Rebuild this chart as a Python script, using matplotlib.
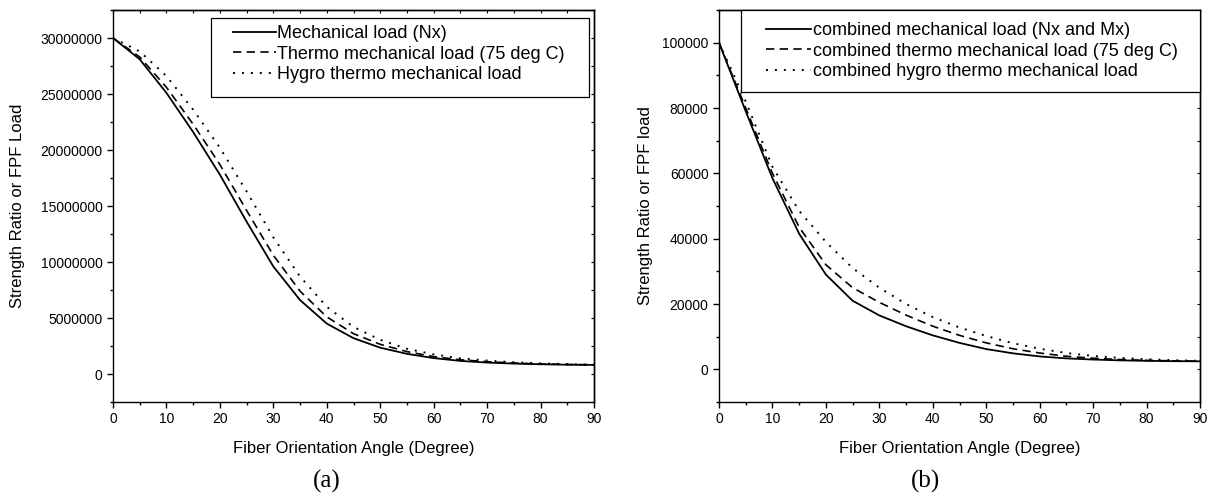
import matplotlib
matplotlib.use("Agg")
import matplotlib.pyplot as plt
from matplotlib.ticker import MultipleLocator, FuncFormatter
from matplotlib.patches import Rectangle

plt.rcParams['font.family'] = ['Liberation Sans', 'DejaVu Sans']

# ---------------- data ----------------
angle = [0, 5, 10, 15, 20, 25, 30, 35, 40, 45, 50, 55, 60, 65, 70, 75, 80, 85, 90]

# panel (a): FPF load under in-plane load Nx
a_mech = [30.0e6, 28.1e6, 25.1e6, 21.6e6, 17.8e6, 13.6e6, 9.6e6, 6.6e6, 4.5e6, 3.2e6,
          2.35e6, 1.8e6, 1.42e6, 1.17e6, 1.02e6, 0.93e6, 0.87e6, 0.83e6, 0.81e6]
a_thermo = [30.0e6, 28.3e6, 25.6e6, 22.3e6, 18.7e6, 14.6e6, 10.6e6, 7.4e6, 5.1e6, 3.6e6,
            2.65e6, 2.0e6, 1.55e6, 1.27e6, 1.1e6, 0.98e6, 0.9e6, 0.85e6, 0.82e6]
a_hygro = [30.0e6, 28.8e6, 26.6e6, 23.6e6, 20.2e6, 16.3e6, 12.2e6, 8.7e6, 6.0e6, 4.2e6,
           3.05e6, 2.25e6, 1.75e6, 1.4e6, 1.2e6, 1.05e6, 0.95e6, 0.88e6, 0.83e6]

# panel (b): FPF load under combined Nx and Mx
b_mech = [100000, 79000, 58500, 41500, 29000, 21000, 16500, 13200, 10400, 8100,
          6200, 4900, 3950, 3350, 3000, 2750, 2600, 2500, 2450]
b_thermo = [100000, 80000, 60000, 43500, 32000, 25000, 20500, 16600, 13200, 10400,
            8100, 6300, 5000, 4000, 3400, 3000, 2750, 2600, 2500]
b_hygro = [100000, 82000, 62000, 48500, 39000, 31000, 25000, 20000, 16000, 12800,
           10200, 8000, 6300, 5000, 4100, 3500, 3100, 2800, 2600]

labels_a = ["Mechanical load (Nx)", "Thermo mechanical load (75 deg C)",
            "Hygro thermo mechanical load"]
labels_b = ["combined mechanical load (Nx and Mx)",
            "combined thermo mechanical load (75 deg C)",
            "combined hygro thermo mechanical load"]

xlabel = "Fiber Orientation Angle (Degree)"
ylabel_a = "Strength Ratio or FPF Load"
ylabel_b = "Strength Ratio or FPF load"

# ---------------- figure ----------------
W, H = 1210, 500
fig = plt.figure(figsize=(W / 100, H / 100), dpi=100)

axw = 481 / W
axh = 392 / H
axb = 1 - 402 / H
ax1 = fig.add_axes([113 / W, axb, axw, axh])
ax2 = fig.add_axes([719 / W, axb, axw, axh])

styles = [dict(ls='-', lw=1.3),
          dict(ls=(0, (5, 3.2)), lw=1.2),
          dict(ls=(0, (1, 3.6)), lw=1.4)]

fmt = FuncFormatter(lambda v, p: f"{int(round(v))}")


def setup(ax, series, labels, ylim, ymaj, ymin, ylab, ylab_x, leg_rect, leg_anchor,
          hlen, panel, panel_x):
    handles = []
    for s, lab, st in zip(series, labels, styles):
        h, = ax.plot(angle, s, color='black', label=lab, zorder=2, **st)
        handles.append(h)
    ax.set_xlim(0, 90)
    ax.set_ylim(*ylim)
    ax.xaxis.set_major_locator(MultipleLocator(10))
    ax.xaxis.set_minor_locator(MultipleLocator(5))
    ax.yaxis.set_major_locator(MultipleLocator(ymaj))
    ax.yaxis.set_minor_locator(MultipleLocator(ymin))
    ax.yaxis.set_major_formatter(fmt)
    ax.xaxis.set_major_formatter(fmt)
    for sp in ax.spines.values():
        sp.set_linewidth(1.0)
    ax.tick_params(which='major', direction='out', length=4, width=1.0,
                   labelsize=10, pad=3.5, top=False, right=False)
    ax.tick_params(which='minor', direction='out', length=2.3, width=1.0,
                   top=False, right=False)
    # top / right inward ticks without labels
    sx = ax.secondary_xaxis('top')
    sx.xaxis.set_major_locator(MultipleLocator(10))
    sx.xaxis.set_minor_locator(MultipleLocator(5))
    sx.tick_params(which='major', direction='in', length=2.5, width=0.8, labeltop=False)
    sx.tick_params(which='minor', direction='in', length=2.0, width=0.8)
    sx.spines['top'].set_linewidth(1.0)
    sy = ax.secondary_yaxis('right')
    sy.yaxis.set_major_locator(MultipleLocator(ymaj))
    sy.yaxis.set_minor_locator(MultipleLocator(ymin))
    sy.tick_params(which='major', direction='in', length=2.5, width=0.8, labelright=False)
    sy.tick_params(which='minor', direction='in', length=2.0, width=0.8)
    sy.spines['right'].set_linewidth(1.0)

    ax.set_xlabel(xlabel, fontsize=12)
    ax.xaxis.set_label_coords(0.5, -0.100)
    ax.set_ylabel(ylab, fontsize=12)
    ax.yaxis.set_label_coords(ylab_x, 0.5)

    # legend frame
    rect = Rectangle((leg_rect[0], leg_rect[1]), leg_rect[2], leg_rect[3],
                     transform=ax.transAxes, facecolor='white', edgecolor='black',
                     linewidth=0.9, zorder=3, clip_on=False)
    ax.add_patch(rect)
    leg = ax.legend(handles=handles, loc='upper left', bbox_to_anchor=leg_anchor,
                    frameon=False, fontsize=13, handlelength=hlen, handletextpad=0.08,
                    borderpad=0, borderaxespad=0, labelspacing=0.2)
    leg.set_zorder(4)

    fig.text(panel_x / W, 1 - 481 / H, panel, fontsize=18, ha='center', va='center',
             family=['Liberation Serif', 'DejaVu Serif'])


setup(ax1, [a_mech, a_thermo, a_hygro], labels_a, (-2.5e6, 32.5e6), 5e6, 2.5e6,
      ylabel_a, -0.183, (0.204, 0.778, 0.786, 0.202), (0.2495, 0.962), 2.36,
      "(a)", 327)
setup(ax2, [b_mech, b_thermo, b_hygro], labels_b, (-10000, 110000), 20000, 10000,
      ylabel_b, -0.137, (0.046, 0.79, 0.954, 0.21), (0.0977, 0.969), 2.5,
      "(b)", 925)

fig.savefig("out.png", dpi=100)
